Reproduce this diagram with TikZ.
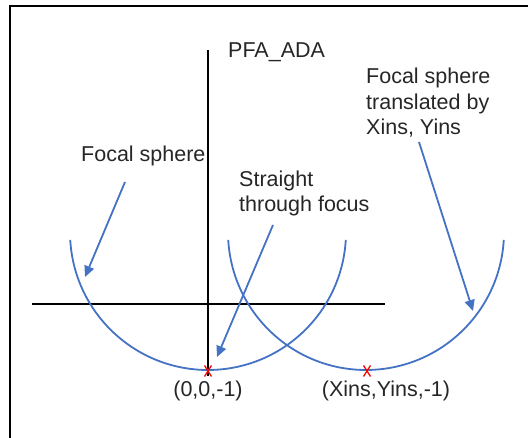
\documentclass[tikz,border=0pt]{standalone}
\usepackage{fontspec}
\setmainfont{Liberation Sans}
\usetikzlibrary{arrows.meta,calc}
\definecolor{offblue}{HTML}{4472C4}
\definecolor{txt}{HTML}{262626}
\begin{document}
\begin{tikzpicture}[x=1pt,y=1pt,
  lbl/.style={inner sep=0pt,text=txt,font=\fontsize{21.5}{25.5}\selectfont,align=left},
  axis/.style={draw=black,line width=2.2pt},
  sphere/.style={draw=offblue,line width=1.8pt},
  pointer/.style={draw=offblue,line width=1.8pt,-{Triangle[length=11pt,width=10pt]}},
  xmark/.style={draw=red,line width=1.3pt}]
\useasboundingbox (0,0) rectangle (528,438);
% frame
\draw[line width=1.3pt] (528,432) -- (10,432) -- (10,0);
% axes
\coordinate (vtop) at (208,388);
\coordinate (vbot) at (208,62);
\coordinate (hl) at (32,134);
\coordinate (hr) at (385,134);
\draw[axis] (vtop) -- (vbot);
\draw[axis] (hl) -- (hr);
% spheres
\coordinate (c1) at (208,206);
\coordinate (c2) at (366,206);
\draw[sphere] (c1) ++(183.3:138) arc[start angle=183.3,end angle=356.7,radius=138];
\draw[sphere] (c2) ++(183.3:138) arc[start angle=183.3,end angle=356.7,radius=138];
% focus marks
\coordinate (f1) at (208,67);
\coordinate (f2) at (367,67);
\draw[xmark] ($(f1)+(-3.5,-5.5)$) -- ($(f1)+(3.5,5.5)$) ($(f1)+(-3.5,5.5)$) -- ($(f1)+(3.5,-5.5)$);
\draw[xmark] ($(f2)+(-3.5,-5.5)$) -- ($(f2)+(3.5,5.5)$) ($(f2)+(-3.5,5.5)$) -- ($(f2)+(3.5,-5.5)$);
% labels
\node[lbl,anchor=base west] (pfa) at (228,380) {PFA\_ADA};
\node[lbl,anchor=base west] (fs) at (81,276) {Focal sphere};
\node[lbl,anchor=base west] (stf) at (239,226) {Straight\\through focus};
\node[lbl,anchor=base west] (fst) at (366,303) {Focal sphere\\translated by\\Xins, Yins};
\node[lbl,anchor=base] (p1) at (208,41) {(0,0,-1)};
\node[lbl,anchor=base] (p2) at (386,41) {(Xins,Yins,-1)};
% pointers
\coordinate (a1s) at (125,256);
\coordinate (a1e) at (85,161);
\coordinate (a2s) at (273,213);
\coordinate (a2e) at (217,81);
\coordinate (a3s) at (419,296);
\coordinate (a3e) at (473,127);
\draw[pointer] (a1s) -- (a1e);
\draw[pointer] (a2s) -- (a2e);
\draw[pointer] (a3s) -- (a3e);
\end{tikzpicture}
\end{document}
